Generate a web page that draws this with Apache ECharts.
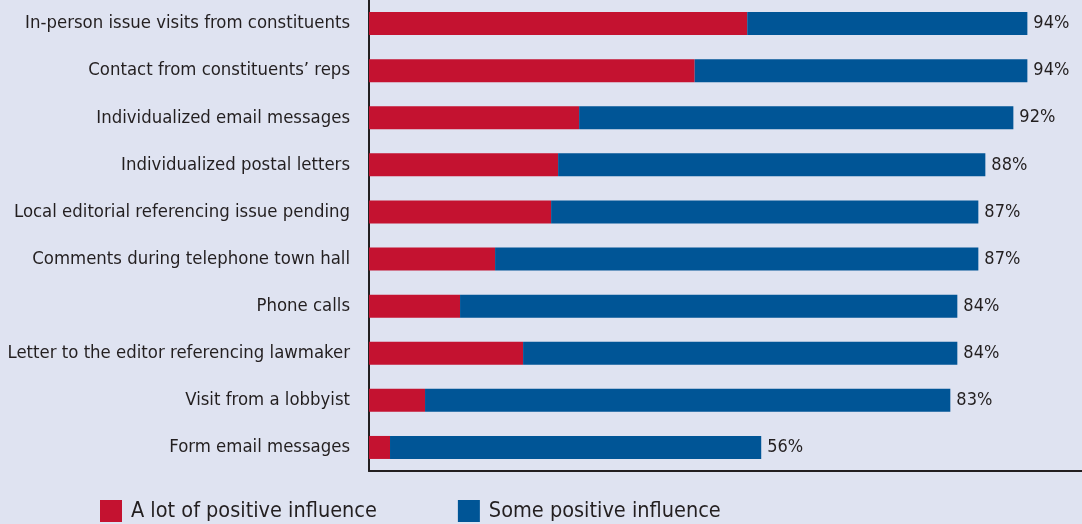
<!DOCTYPE html>
<html>
<head>
<meta charset="utf-8">
<script src="https://cdn.jsdelivr.net/npm/echarts@6/dist/echarts.min.js"></script>
<style>
  html, body { margin: 0; padding: 0; background: #dfe3f1; }
  #chart { width: 1082px; height: 524px; }
</style>
</head>
<body>
<div id="chart"></div>
<script>
const categories = [
  'In-person issue visits from constituents',
  'Contact from constituents\u2019 reps',
  'Individualized email messages',
  'Individualized postal letters',
  'Local editorial referencing issue pending',
  'Comments during telephone town hall',
  'Phone calls',
  'Letter to the editor referencing lawmaker',
  'Visit from a lobbyist',
  'Form email messages'
];
const aLot = [54, 46.5, 30, 27, 26, 18, 13, 22, 8, 3];
const some = [40, 47.5, 62, 61, 61, 69, 71, 62, 75, 53];
const totals = [94, 94, 92, 88, 87, 87, 84, 84, 83, 56];

const font = '"Liberation Sans Narrow", "DejaVu Sans Condensed", sans-serif';
const ink = '#231f20';

const chart = echarts.init(document.getElementById('chart'));
chart.setOption({
  backgroundColor: '#dfe3f1',
  animation: false,
  textStyle: { fontFamily: font, color: ink },
  grid: { left: 369, right: 0, top: 0, bottom: 53, outerBoundsMode: 'none', containLabel: false },
  legend: {
    left: 95,
    top: 495,
    icon: 'rect',
    itemWidth: 22,
    itemHeight: 22,
    itemGap: 81,
    textStyle: { fontFamily: font, fontSize: 21.5, color: ink, padding: [0, 0, 0, 4] },
    data: ['A lot of positive influence', 'Some positive influence']
  },
  xAxis: {
    type: 'value',
    min: 0,
    max: 101.8,
    axisLine: { show: true, lineStyle: { color: ink, width: 2 } },
    axisTick: { show: false },
    axisLabel: { show: false },
    splitLine: { show: false }
  },
  yAxis: {
    type: 'category',
    inverse: true,
    data: categories,
    axisLine: { show: true, lineStyle: { color: ink, width: 2 } },
    axisTick: { show: false },
    axisLabel: { margin: 19, fontSize: 18.4, color: ink, fontFamily: font }
  },
  series: [{
    name: 'A lot of positive influence',
    type: 'bar',
    stack: 'total',
    barWidth: 23,
    itemStyle: { color: '#c41230' },
    data: aLot
  }, {
    name: 'Some positive influence',
    type: 'bar',
    stack: 'total',
    barWidth: 23,
    itemStyle: { color: '#005596' },
    label: {
      show: true,
      position: 'right',
      distance: 6,
      fontSize: 18,
      fontFamily: font,
      color: ink,
      formatter: p => totals[p.dataIndex] + '%'
    },
    data: some
  }]
});
</script>
</body>
</html>
